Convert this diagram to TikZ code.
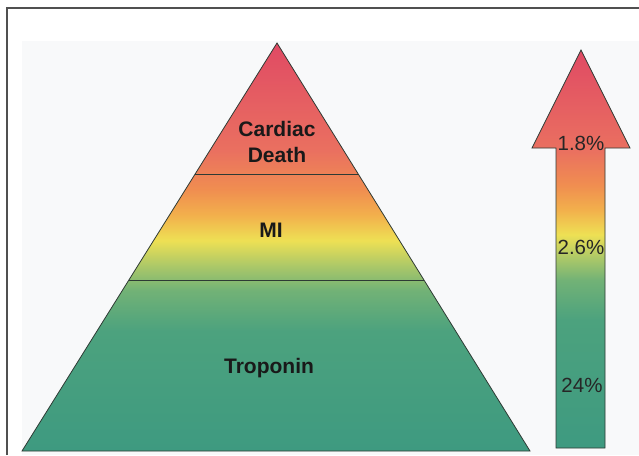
\documentclass[tikz,border=0pt]{standalone}
\usepackage{fontspec}
\setmainfont{Liberation Sans}
\usetikzlibrary{calc}
\definecolor{cRed}{HTML}{E04A64}
\definecolor{cRed2}{HTML}{EA7060}
\definecolor{cOrg}{HTML}{F08E50}
\definecolor{cOrg2}{HTML}{F2B04C}
\definecolor{cYel}{HTML}{EEE054}
\definecolor{cYG}{HTML}{ACC868}
\definecolor{cGr}{HTML}{72B276}
\definecolor{cTeal}{HTML}{4CA27E}
\definecolor{cTeal2}{HTML}{3E9A80}
\definecolor{panel}{HTML}{F8F9FA}
\definecolor{frame}{HTML}{505050}
\definecolor{edge}{HTML}{2E3A34}
\pgfdeclareverticalshading{pyrshade}{100bp}{color(0bp)=(cTeal2); color(25bp)=(cTeal2); color(39.7bp)=(cTeal); color(44.7bp)=(cGr); color(47.7bp)=(cYG); color(50.8bp)=(cYel); color(53.9bp)=(cOrg2); color(57bp)=(cOrg); color(61.8bp)=(cRed2); color(75bp)=(cRed); color(100bp)=(cRed)}
\pgfdeclareverticalshading{arrshade}{100bp}{color(0bp)=(cTeal2); color(25bp)=(cTeal2); color(41.1bp)=(cTeal); color(46.1bp)=(cGr); color(48.9bp)=(cYG); color(51.8bp)=(cYel); color(54.9bp)=(cOrg2); color(58bp)=(cOrg); color(62.4bp)=(cRed2); color(75bp)=(cRed); color(100bp)=(cRed)}
\tikzset{
  lbl/.style={font=\bfseries\fontsize{21}{26}\selectfont, align=center, text=black!90},
  pct/.style={font=\fontsize{20.5}{24}\selectfont, text=black!85},
  shapeedge/.style={draw=edge, line width=0.8pt},
  divider/.style={draw=edge, line width=1pt}
}
\begin{document}
\begin{tikzpicture}[x=1pt,y=-1pt]
\useasboundingbox (0,0) rectangle (639,455);
\fill[white] (0,0) rectangle (639,455);
\fill[panel] (22,41) rectangle (639,455);
\draw[frame, line width=1.3pt] (7,455) -- (7,8) -- (639,8);
% pyramid
\coordinate (apex) at (277,43);
\coordinate (bl) at (22,451);
\coordinate (br) at (530,451);
\path[shading=pyrshade, shapeedge] (apex) -- (br) -- (bl) -- cycle;
\coordinate (d1l) at ($(apex)!0.322!(bl)$);
\coordinate (d1r) at ($(apex)!0.322!(br)$);
\coordinate (d2l) at ($(apex)!0.582!(bl)$);
\coordinate (d2r) at ($(apex)!0.582!(br)$);
\draw[divider] (d1l) -- (d1r);
\draw[divider] (d2l) -- (d2r);
\node[lbl] (cd) at (277,142) {Cardiac\\Death};
\node[lbl] (mi) at (271,230) {MI};
\node[lbl] (tr) at (269,368) {Troponin};
% arrow
\path[shading=arrshade, shapeedge] (581,50) -- (630,148) -- (605,148) -- (605,448) -- (556,448) -- (556,148) -- (532,148) -- cycle;
\node[pct] (p1) at (581,143) {1.8\%};
\node[pct] (p2) at (581,247) {2.6\%};
\node[pct] (p3) at (582,385) {24\%};
\end{tikzpicture}
\end{document}
